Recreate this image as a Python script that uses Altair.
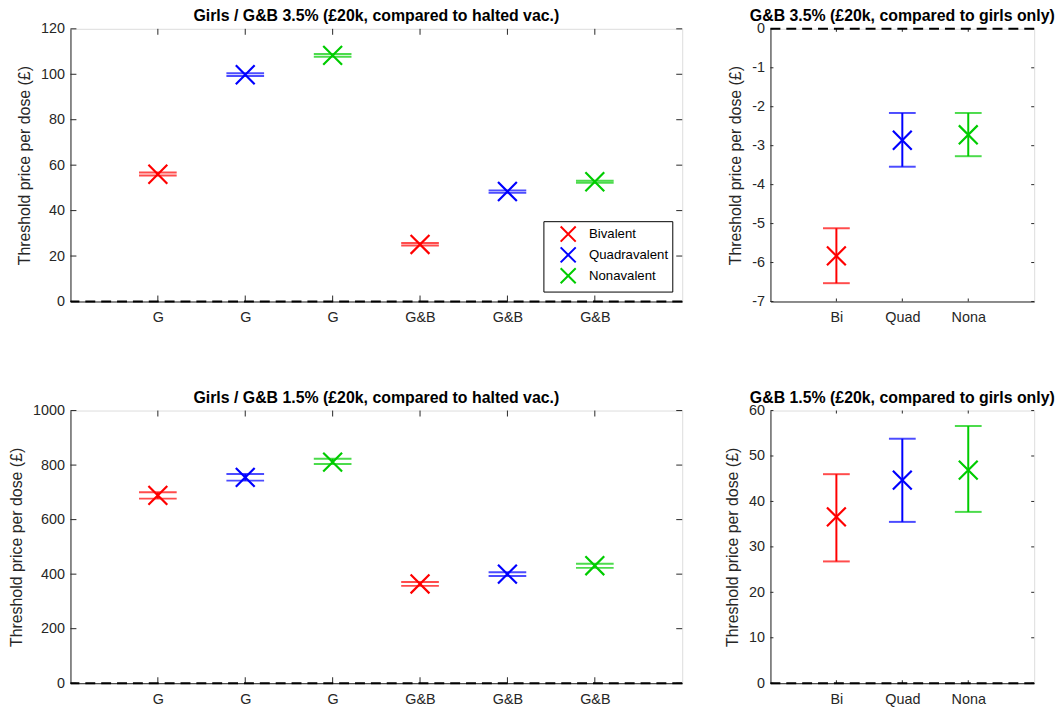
import json
import altair as alt
import pandas as pd

# ---------------- data ----------------
valency_order = ["Bivalent", "Quadravalent", "Nonavalent"]
valency_colors = ["#ff0000", "#0000ff", "#00cc00"]

left_pos = [1, 2, 3, 4, 5, 6]
left_labels = ["G", "G", "G", "G&B", "G&B", "G&B"]
left_valency = ["Bivalent", "Quadravalent", "Nonavalent", "Bivalent", "Quadravalent", "Nonavalent"]

right_pos = [1, 2, 3]
right_labels = ["Bi", "Quad", "Nona"]
right_valency = ["Bivalent", "Quadravalent", "Nonavalent"]

# Girls / G&B 3.5% (compared to halted vac.)
tl_mid = [56.0, 99.8, 108.3, 25.1, 48.4, 52.7]
tl_lo = [55.4, 99.2, 107.7, 24.6, 47.9, 52.3]
tl_hi = [56.8, 100.4, 108.9, 25.7, 48.9, 53.1]

# G&B 3.5% (compared to girls only)
tr_mid = [-5.83, -2.86, -2.72]
tr_lo = [-6.53, -3.54, -3.27]
tr_hi = [-5.12, -2.16, -2.16]

# Girls / G&B 1.5% (compared to halted vac.)
bl_mid = [689, 755, 811, 364, 400, 431]
bl_lo = [677, 743, 804, 357, 393, 423]
bl_hi = [700, 767, 823, 371, 407, 438]

# G&B 1.5% (compared to girls only)
br_mid = [36.6, 44.7, 46.9]
br_lo = [26.8, 35.5, 37.7]
br_hi = [46.0, 53.8, 56.6]

tl_yticks = [0, 20, 40, 60, 80, 100, 120]
tr_yticks = [0, -1, -2, -3, -4, -5, -6, -7]
bl_yticks = [0, 200, 400, 600, 800, 1000]
br_yticks = [0, 10, 20, 30, 40, 50, 60]
zero_line = [0]

FONT = "Liberation Sans"
AX = "#262626"
XSHAPE = "M-1,-1L1,1M-1,1L1,-1"


def panel(title, pos, labels, valency, mid, lo, hi, ydomain, yticks, xmax,
          width, height, cap, ticklen, show_legend):
    df = pd.DataFrame({"pos": pos, "valency": valency, "mid": mid, "lo": lo, "hi": hi})
    lab_arr = [""] + labels + [""]
    label_expr = json.dumps(lab_arr) + "[datum.value]"

    xscale = alt.Scale(domain=[0, xmax], nice=False, zero=False)
    yscale = alt.Scale(domain=ydomain, nice=False, zero=False)

    x_axis = alt.Axis(values=pos, labelExpr=label_expr, title=None, ticks=False,
                      grid=False, labelFontSize=14.5, labelColor=AX, labelFont=FONT,
                      labelPadding=9, domainColor=AX, labelOverlap=False,
                      labelFlush=False, labelBound=False)
    y_axis = alt.Axis(values=yticks, labelExpr="toString(datum.value)",
                      title="Threshold price per dose (£)", ticks=False,
                      grid=False, labelFontSize=14.5, labelColor=AX, labelFont=FONT,
                      labelPadding=6, domainColor=AX, titleFont=FONT, titleFontSize=16,
                      titleFontWeight="normal", titleColor=AX, titlePadding=8,
                      labelOverlap=False, labelFlush=False, labelBound=False)

    def X(field):
        return alt.X(field, scale=xscale, axis=x_axis)

    def Y(field):
        return alt.Y(field, scale=yscale, axis=y_axis)

    color_scale = alt.Scale(domain=valency_order, range=valency_colors)
    if show_legend:
        legend = alt.Legend(title=None, orient="bottom-right", offset=10,
                            strokeColor="black", fillColor="white", padding=4,
                            symbolType=XSHAPE, symbolSize=230, symbolStrokeWidth=2,
                            symbolFillColor="transparent", symbolOpacity=1,
                            labelFont=FONT, labelFontSize=13.3, labelColor="black",
                            rowPadding=-12, labelOffset=12, symbolOffset=12)
        color = alt.Color("valency:N", scale=color_scale, legend=legend, sort=valency_order)
    else:
        color = alt.Color("valency:N", scale=color_scale, legend=None, sort=valency_order)

    dft = pd.DataFrame({"v": yticks})
    dfx = pd.DataFrame({"v": pos})
    dfz = pd.DataFrame({"v": zero_line})

    yt_left = alt.Chart(dft).mark_rule(color=AX, strokeWidth=1).encode(
        y=Y("v:Q"), x=alt.value(0), x2=alt.value(ticklen))
    yt_right = alt.Chart(dft).mark_rule(color=AX, strokeWidth=1).encode(
        y=Y("v:Q"), x=alt.value(width - ticklen), x2=alt.value(width))
    xt_bot = alt.Chart(dfx).mark_rule(color=AX, strokeWidth=1).encode(
        x=X("v:Q"), y=alt.value(height - ticklen), y2=alt.value(height))
    xt_top = alt.Chart(dfx).mark_rule(color=AX, strokeWidth=1).encode(
        x=X("v:Q"), y=alt.value(0), y2=alt.value(ticklen))

    zero = alt.Chart(dfz).mark_rule(color="black", strokeWidth=2, strokeDash=[10, 6]).encode(
        y=Y("v:Q"))

    base = alt.Chart(df)
    vline = base.mark_rule(strokeWidth=2).encode(
        x=X("pos:Q"), y=Y("lo:Q"), y2="hi:Q", color=color)
    cap_lo = base.mark_tick(orient="horizontal", size=cap, thickness=2).encode(
        x=X("pos:Q"), y=Y("lo:Q"), color=color)
    cap_hi = base.mark_tick(orient="horizontal", size=cap, thickness=2).encode(
        x=X("pos:Q"), y=Y("hi:Q"), color=color)
    marker = base.mark_point(shape=XSHAPE, size=361, strokeWidth=2.2, filled=False,
                             opacity=1).encode(
        x=X("pos:Q"), y=Y("mid:Q"), color=color)

    return alt.layer(yt_left, yt_right, xt_bot, xt_top, vline, cap_lo, cap_hi, marker, zero).properties(
        width=width, height=height,
        title=alt.TitleParams(title, font=FONT, fontSize=16, fontWeight="bold", color="black",
                              anchor="middle", frame="group", offset=-3))


LW, RW, H = 617, 266, 275
tl = panel("Girls / G&B 3.5% (£20k, compared to halted vac.)", left_pos, left_labels,
           left_valency, tl_mid, tl_lo, tl_hi, [0, 120], tl_yticks, 7, LW, H, 38, 6, True)
tr = panel("G&B 3.5% (£20k, compared to girls only)", right_pos, right_labels,
           right_valency, tr_mid, tr_lo, tr_hi, [-7, 0], tr_yticks, 4, RW, H, 27, 3, False)
bl = panel("Girls / G&B 1.5% (£20k, compared to halted vac.)", left_pos, left_labels,
           left_valency, bl_mid, bl_lo, bl_hi, [0, 1000], bl_yticks, 7, LW, H, 38, 6, False)
br = panel("G&B 1.5% (£20k, compared to girls only)", right_pos, right_labels,
           right_valency, br_mid, br_lo, br_hi, [0, 60], br_yticks, 4, RW, H, 27, 3, False)

chart = alt.concat(tl, tr, bl, br, columns=2, spacing={"row": 65, "column": 40}).resolve_scale(
    x="independent", y="independent", color="independent"
).resolve_legend(color="independent").properties(
    padding={"left": 0, "top": -4, "right": 0, "bottom": 0}
).configure_view(stroke=AX, strokeWidth=1).configure(background="white")

chart.save("out.html", embed_options={"renderer": "svg", "actions": False})
